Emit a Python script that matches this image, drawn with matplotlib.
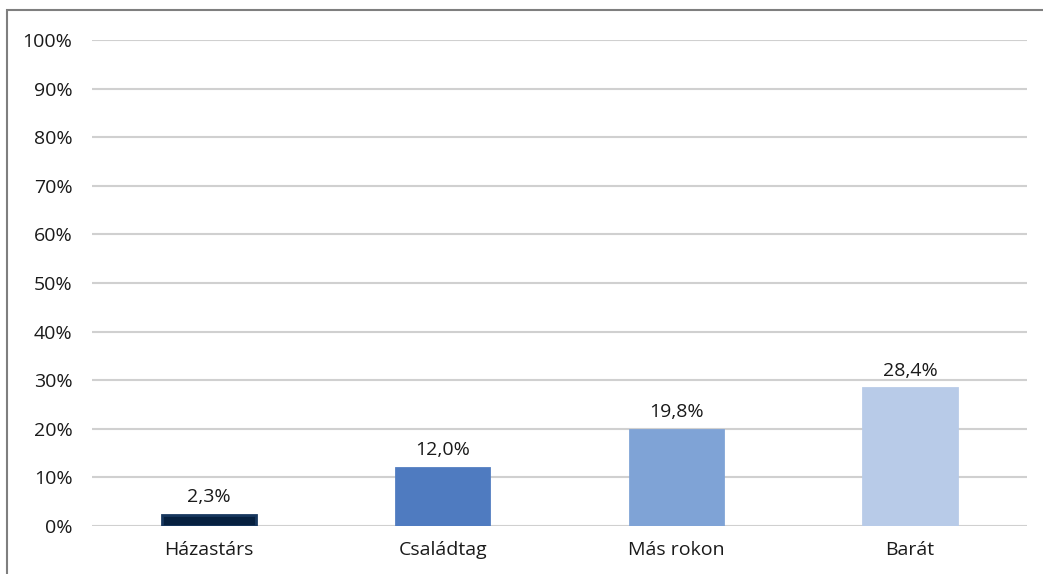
import matplotlib.pyplot as plt
import matplotlib.patches as patches
import numpy as np

plt.rcParams['font.family'] = ['Open Sans', 'DejaVu Sans']

categories = ['Házastárs', 'Családtag', 'Más rokon', 'Barát']
values = [2.3, 12.0, 19.8, 28.4]
labels = ['2,3%', '12,0%', '19,8%', '28,4%']
colors = ['#06203F', '#4F7BC0', '#7FA3D6', '#B8CBE8']
edges = ['#17375E', '#4F7BC0', '#7FA3D6', '#B8CBE8']

fig = plt.figure(figsize=(10.43, 5.74), dpi=100)
ax = fig.add_axes([92/1043, 1-526/574, (1027-92)/1043, (526-40)/574])

x = np.arange(len(categories))
bars = ax.bar(x, values, width=0.4, color=colors, edgecolor=edges, linewidth=2, zorder=3)
for b, lab in zip(bars, labels):
    ax.annotate(lab, (b.get_x() + b.get_width()/2, b.get_height()), xytext=(0, 6),
                textcoords='offset points', ha='center', va='bottom', fontsize=14, color='#1a1a1a')

ax.set_xlim(-0.5, len(categories)-0.5)
ax.set_ylim(0, 100)
ax.set_yticks(np.arange(0, 101, 10))
ax.set_yticklabels([f'{v}%' for v in range(0, 101, 10)])
ax.set_xticks(x)
ax.set_xticklabels(categories)
ax.tick_params(length=0, labelsize=14, colors='#1a1a1a')
ax.tick_params(axis='y', pad=14)
ax.tick_params(axis='x', pad=11)
ax.yaxis.grid(True, color='#D0D0D0', linewidth=1.5, zorder=0)
for s in ax.spines.values():
    s.set_visible(False)

# outer chart frame (left and top edges visible)
fig.patches.append(patches.Rectangle((7/1043, -0.1), 1.2, 1.1 - 10/574, transform=fig.transFigure,
                                     fill=False, edgecolor='#7F7F7F', linewidth=1.5))

plt.savefig('out.png', dpi=100)
